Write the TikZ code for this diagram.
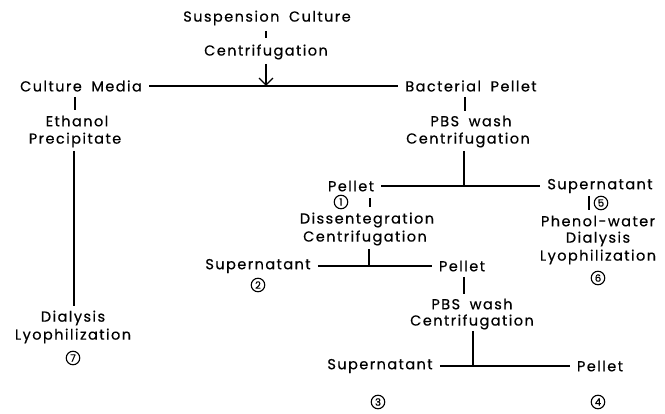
\documentclass[tikz,border=0pt]{standalone}
\usepackage{fontspec}
\setmainfont[LetterSpace=10,WordSpace=1.8,FakeBold=0.5]{Poppins}
\newfontfamily\numfont[FakeBold=1]{Poppins}
\usetikzlibrary{arrows.meta,calc}
\tikzset{
  lbl/.style={inner sep=0pt, font=\fontsize{14.5}{16}\selectfont},
  num/.style={circle, draw, line width=1.1pt, minimum size=13.5pt, inner sep=0pt,
              font=\numfont\fontsize{10}{10}\selectfont},
  conn/.style={line width=1.3pt},
}
\begin{document}
\begin{tikzpicture}[x=1pt,y=-1pt]
\useasboundingbox (0,0) rectangle (665,414);
% top
\node[lbl] (susp) at (267,18) {Suspension Culture};
\node[lbl] (cent1) at (266,52) {Centrifugation};
\node[lbl] (cm) at (81,86) {Culture Media};
\node[lbl] (bp) at (471,86) {Bacterial Pellet};
\coordinate (j1) at (cent1 |- cm);
\draw[conn] ($(cent1)+(0,-21)$) -- ($(cent1)+(0,-14)$);
\draw[conn] ([xshift=7pt]cm.east) -- ([xshift=-7pt]bp.west);
\draw[conn,-{Straight Barb[length=7pt,width=14pt]}] ($(cent1)+(0,12)$) -- (j1);
% left branch
\node[lbl] (eth) at (77,121) {Ethanol};
\node[lbl] (prec) at (75,140) {Precipitate};
\node[lbl] (dial7) at (73,318) {Dialysis};
\node[lbl] (lyo7) at (73,336) {Lyophilization};
\node[num] (c7) at (73,358) {7};
\draw[conn] ($(eth)+(-2,-24)$) -- ($(eth)+(-2,-11)$);
\draw[conn] ($(dial7)+(1,-167)$) -- ($(dial7)+(1,-12)$);
% bacterial pellet branch
\node[lbl] (pbs1) at (471,121) {PBS wash};
\node[lbl] (cent2) at (468,140) {Centrifugation};
\draw[conn] ($(pbs1)+(-6,-24)$) -- ($(pbs1)+(-6,-10)$);
\node[lbl] (pel1) at (351,186) {Pellet};
\node[lbl] (sup1) at (600,186) {Supernatant};
\coordinate (j2) at ($(cent2 |- pel1)+(-4,0)$);
\draw[conn] ([xshift=7pt]pel1.east) -- ([xshift=-7pt]sup1.west);
\draw[conn] ($(j2)+(0,-35)$) -- (j2);
% pellet 1
\node[num] (c1) at (341,202) {1};
\node[lbl] (diss) at (367,220) {Dissentegration};
\node[lbl] (cent3) at (365,238) {Centrifugation};
\draw[conn] ($(diss)+(3,-22)$) -- ($(diss)+(3,-13)$);
\node[lbl] (sup2) at (258,266) {Supernatant};
\node[lbl] (pel2) at (462,266) {Pellet};
\node[num] (c2) at (258,285) {2};
\coordinate (j3) at ($(cent3 |- sup2)+(4,0)$);
\draw[conn] ([xshift=7pt]sup2.east) -- ([xshift=-7pt]pel2.west);
\draw[conn] ($(j3)+(0,-17)$) -- (j3);
% pellet 2
\node[lbl] (pbs2) at (472,304) {PBS wash};
\node[lbl] (cent4) at (472,322) {Centrifugation};
\draw[conn] ($(pbs2)+(-8,-27)$) -- ($(pbs2)+(-8,-10)$);
\node[lbl] (sup3) at (380,366) {Supernatant};
\node[lbl] (pel4) at (600,366) {Pellet};
\node[num] (c3) at (378,402) {3};
\node[num] (c4) at (598,402) {4};
\coordinate (j4) at ($(cent4 |- sup3)+(1,0)$);
\draw[conn] ([xshift=7pt]sup3.east) -- ([xshift=-7pt]pel4.west);
\draw[conn] ($(j4)+(0,-35)$) -- (j4);
% supernatant 1
\node[num] (c5) at (601,203) {5};
\draw[conn] ($(c5)+(-12,-7)$) -- ($(c5)+(-12,7)$);
\node[lbl] (phen) at (598,221) {Phenol-water};
\node[lbl] (dial6) at (598,239) {Dialysis};
\node[lbl] (lyo6) at (598,257) {Lyophilization};
\node[num] (c6) at (598,278) {6};
\end{tikzpicture}
\end{document}
